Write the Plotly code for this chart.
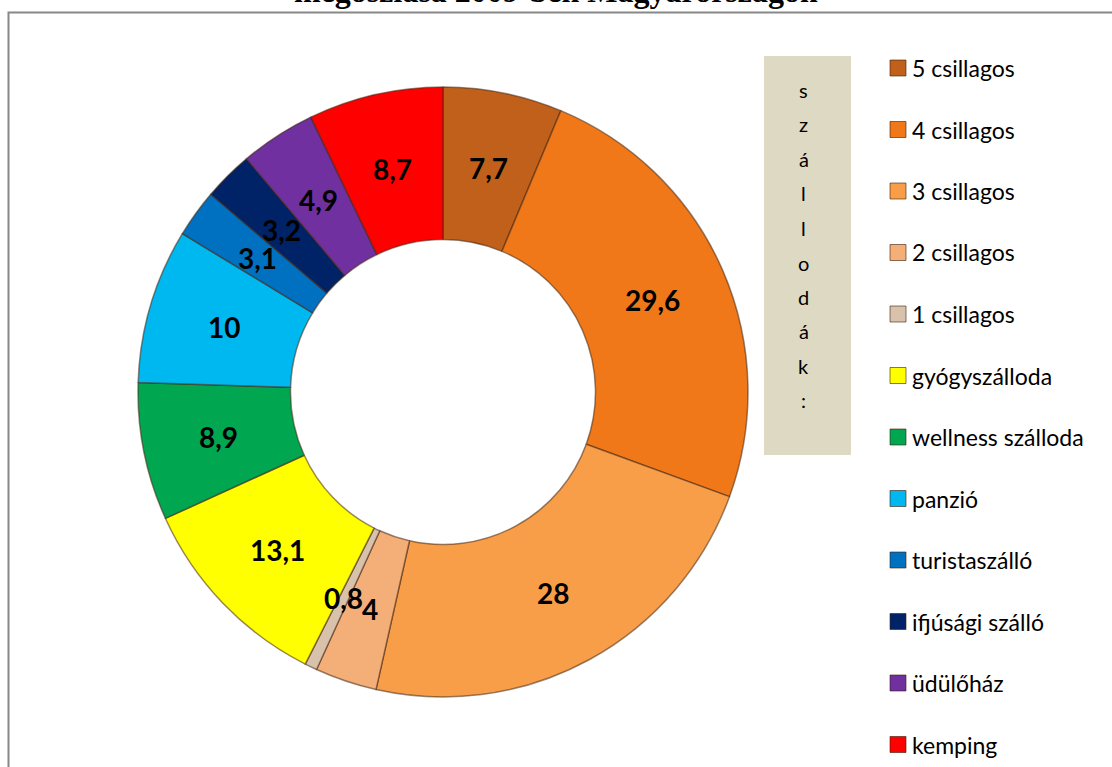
import math
import plotly.graph_objects as go

categories = ["5 csillagos", "4 csillagos", "3 csillagos", "2 csillagos", "1 csillagos",
              "gyógyszálloda", "wellness szálloda", "panzió", "turistaszálló",
              "ifjúsági szálló", "üdülőház", "kemping"]
values = [7.7, 29.6, 28, 4, 0.8, 13.1, 8.9, 10, 3.1, 3.2, 4.9, 8.7]
colors = ["#C0601A", "#F07818", "#F99E48", "#F4AE78", "#D8C2AC", "#FFFF00",
          "#00A650", "#00B8F0", "#0070C0", "#002266", "#7030A0", "#FF0000"]
box_letters = ["s", "z", "á", "l", "l", "o", "d", "á", "k", ":"]
title_text = "megoszlása 2009-ben Magyarországon"

W, H = 1112, 767
cx, cy, R = 443, 392, 305
hole = 0.5
FONT = "Lato, Open Sans, sans-serif"

def px(x):
    return x / W

def py(y):
    return 1 - y / H

fig = go.Figure()
fig.add_trace(go.Pie(
    labels=categories, values=values, sort=False, direction="clockwise",
    rotation=0, hole=hole, textinfo="none", hoverinfo="label+value",
    marker=dict(colors=colors, line=dict(color="rgba(70,40,20,0.55)", width=1.5)),
    domain=dict(x=[px(cx - R), px(cx + R)], y=[py(cy + R), py(cy - R)]),
    showlegend=False,
))

annotations = []
shapes = []

def ann(x, y, text, size, xanchor="center", family=FONT):
    annotations.append(dict(x=px(x), y=py(y), xref="paper", yref="paper", text=text,
                            xanchor=xanchor, yanchor="middle", showarrow=False,
                            font=dict(family=family, size=size, color="black")))

# data labels at mid-angle of each slice
total = sum(values)
cum = 0.0
rmid = R * (1 + hole) / 2
for v in values:
    a = (cum + v / 2) / total * 2 * math.pi
    cum += v
    x = cx + rmid * math.sin(a)
    y = cy - rmid * math.cos(a)
    lab = ("%g" % v).replace(".", ",")
    ann(x, y, "<b>%s</b>" % lab, 28)

# title (cut off at top, as in the original)
ann(556, -9, "<b>%s</b>" % title_text, 32, family="Liberation Serif, Times New Roman, serif")

# vertical text box
shapes.append(dict(type="rect", xref="paper", yref="paper", x0=px(764), x1=px(851), y0=py(455), y1=py(56),
                   fillcolor="#DDD9C3", line=dict(width=0), layer="below"))
for i, ch in enumerate(box_letters):
    ann(804, 90 + i * 34.5, ch, 20)

# legend
for i, (c, col) in enumerate(zip(categories, colors)):
    yy = 68 + i * 61.5
    shapes.append(dict(type="rect", xref="paper", yref="paper", x0=px(890), x1=px(906),
                       y0=py(yy + 8), y1=py(yy - 8), fillcolor=col,
                       line=dict(color="rgba(60,30,10,0.6)", width=1)))
    ann(910, yy, c, 23, xanchor="left")

# frame
shapes.append(dict(type="rect", xref="paper", yref="paper", x0=px(8.5), x1=1.05, y0=-0.05, y1=py(12.5),
                   line=dict(color="#888888", width=2), fillcolor="rgba(0,0,0,0)"))

fig.update_layout(width=W, height=H, margin=dict(l=0, r=0, t=0, b=0),
                  paper_bgcolor="white", plot_bgcolor="white",
                  annotations=annotations, shapes=shapes)
fig.write_html("out.html", config={"displayModeBar": False},
               post_script="document.body.style.margin='0';document.body.style.overflow='hidden';")
